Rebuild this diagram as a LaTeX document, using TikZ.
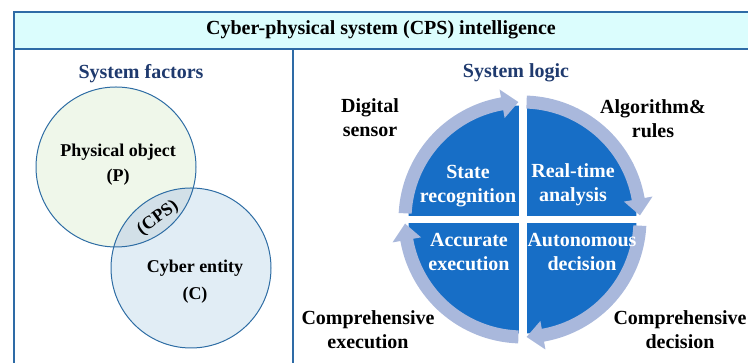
\documentclass[tikz,border=0pt]{standalone}
\usepackage{fontspec}
\setmainfont{Liberation Serif}
\definecolor{frameblue}{HTML}{2E6BA6}
\definecolor{headfill}{HTML}{DBFDFD}
\definecolor{navy}{HTML}{1F3A6E}
\definecolor{pfill}{HTML}{EFF7EA}
\definecolor{cfill}{HTML}{E1EDF5}
\definecolor{capfill}{HTML}{D2E0E8}
\definecolor{vennline}{HTML}{2E6DA4}
\definecolor{quadblue}{HTML}{176EC6}
\definecolor{bandcol}{HTML}{A9B8DC}
\tikzset{
  txt/.style={font=\fontsize{20}{24}\selectfont\bfseries, align=center, inner sep=0pt},
  smalltxt/.style={font=\fontsize{18}{25}\selectfont\bfseries, align=center, inner sep=0pt},
  headtxt/.style={txt, text=navy},
  quadtxt/.style={txt, text=white},
  frame/.style={draw=frameblue, line width=1.6pt},
  venn/.style={draw=vennline, line width=1pt},
}
% clockwise ring arrow around the origin: #1 start angle, #2 tip angle
\newcommand{\cycarrow}[2]{%
  \fill[bandcol] (#1:111) arc[start angle=#1, end angle=#2+8, radius=111]
    -- (#2+8:103) -- (#2:117.5) -- (#2+8:132) -- (#2+8:124)
    arc[start angle=#2+8, end angle=#1, radius=124] -- cycle;}
\begin{document}
\begin{tikzpicture}[x=1pt, y=1pt]
\useasboundingbox (0,0) rectangle (748,363);
\clip (0,0) rectangle (748,363);

% outer frame and header bar
\draw[frame] (14,-10) -- (14,314);
\draw[frame] (293,-10) -- (293,314);
\draw[frame, fill=headfill] (14,314) rectangle (770,351);
\node[txt] (title) at (381,333) {Cyber-physical system (CPS) intelligence};

% left panel: Venn diagram of system factors
\node[headtxt] (factors) at (141,289) {System factors};
\fill[pfill] (116,196) circle[radius=80];
\fill[cfill] (191,95) circle[radius=80];
\begin{scope}
  \clip (116,196) circle[radius=80];
  \fill[capfill] (191,95) circle[radius=80];
\end{scope}
\draw[venn] (116,196) circle[radius=80];
\draw[venn] (191,95) circle[radius=80];
\node[smalltxt] (phys) at (118,211) {Physical object};
\node[smalltxt] (physp) at (118,186) {(P)};
\node[smalltxt] (cyber) at (195,95) {Cyber entity};
\node[smalltxt] (cyberc) at (195,68) {(C)};
\node[smalltxt, rotate=36] (cps) at (158,145) {(CPS)};

% right panel: system logic cycle
\node[headtxt] (logic) at (516,290) {System logic};
\begin{scope}[shift={(522.5,143.5)}]
  \fill[quadblue] (0,0) circle[radius=114];
  \fill[white] (-4,-115) rectangle (4,115);
  \fill[white] (-115,-3.8) rectangle (115,3.8);
  \cycarrow{177}{92}
  \cycarrow{88}{2}
  \cycarrow{-3}{-88}
  \cycarrow{-92}{-178}
\end{scope}

\node[quadtxt] (state) at (468,177) {State\\recognition};
\node[quadtxt] (realtime) at (573,178) {Real-time\\analysis};
\node[quadtxt] (accurate) at (469,111) {Accurate\\execution};
\node[quadtxt] (auto) at (582,111) {Autonomous\\decision};

\node[txt] (sensor) at (370,245) {Digital\\sensor};
\node[txt] (algo) at (653,244) {Algorithm\&\\rules};
\node[txt] (compexe) at (368,33) {Comprehensive\\execution};
\node[txt] (compdec) at (680,33) {Comprehensive\\decision};
\end{tikzpicture}
\end{document}
